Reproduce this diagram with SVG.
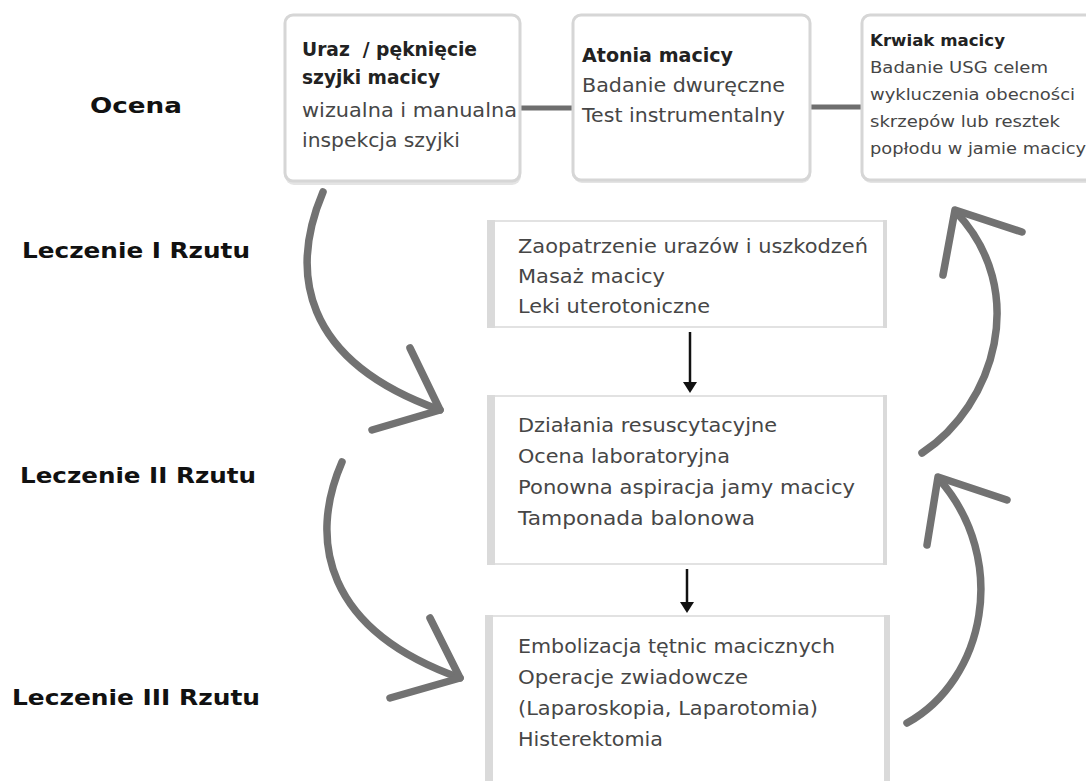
<svg xmlns="http://www.w3.org/2000/svg" width="1086" height="781" viewBox="0 0 1086 781">
<defs>
<style>
.lbl{font-family:"DejaVu Sans","Liberation Sans",sans-serif;font-weight:bold;font-size:21px;fill:#111}
.t{font-family:"DejaVu Sans","Liberation Sans",sans-serif;font-size:19px;fill:#464646}
.tb{font-family:"DejaVu Sans","Liberation Sans",sans-serif;font-size:19px;font-weight:bold;fill:#222}
.s{font-family:"DejaVu Sans","Liberation Sans",sans-serif;font-size:16px;fill:#464646}
.sb{font-family:"DejaVu Sans","Liberation Sans",sans-serif;font-size:16px;font-weight:bold;fill:#222}
.top{fill:#fff;stroke:#d6d6d6;stroke-width:3}
.shadow{fill:#e4e4e4}
.mid{fill:#fff;stroke:#e2e2e2;stroke-width:2}
.bar{fill:#dadada}
.link{stroke:#6e6e6e;stroke-width:5;fill:none}
.curve{stroke:#727272;stroke-width:7.5;fill:none;stroke-linecap:round;stroke-linejoin:round}
.arr{stroke:#111;stroke-width:2.5;fill:none}
.pre{white-space:pre}
</style>
</defs>
<rect width="1086" height="781" fill="#fff"/>

<g id="labels">
<text class="lbl" x="90" y="113" textLength="92" lengthAdjust="spacingAndGlyphs">Ocena</text>
<text class="lbl" x="22" y="258" textLength="228" lengthAdjust="spacingAndGlyphs">Leczenie I Rzutu</text>
<text class="lbl" x="20" y="483" textLength="236" lengthAdjust="spacingAndGlyphs">Leczenie II Rzutu</text>
<text class="lbl" x="12" y="705" textLength="248" lengthAdjust="spacingAndGlyphs">Leczenie III Rzutu</text>
</g>

<g id="connectors">
<line class="link" x1="520" y1="108" x2="574" y2="108"/>
<line class="link" x1="810" y1="107" x2="863" y2="107"/>
<line class="arr" x1="690" y1="332" x2="690" y2="384"/>
<path d="M683,382 L697,382 L690,393 Z" fill="#111"/>
<line class="arr" x1="687" y1="569" x2="687" y2="604"/>
<path d="M680,602 L694,602 L687,613 Z" fill="#111"/>
<path class="curve" d="M323,192 C290,270 300,360 440,410"/>
<path class="curve" d="M410,348 L440,410 L372,430"/>
<path class="curve" d="M342,462 C308,540 325,630 460,678"/>
<path class="curve" d="M430,618 L460,678 L390,698"/>
<path class="curve" d="M922,453 C995,405 1030,290 956,212"/>
<path class="curve" d="M943,275 L955,210 L1022,232"/>
<path class="curve" d="M907,723 C985,680 1010,560 939,479"/>
<path class="curve" d="M927,545 L938,477 L1007,500"/>
</g>

<g id="node-uraz">
<rect class="shadow" x="285" y="17" width="236" height="168" rx="9"/>
<rect class="top" x="285" y="15" width="235" height="166" rx="8"/>
<text class="tb pre" x="302" y="56" textLength="175" lengthAdjust="spacingAndGlyphs">Uraz  / pęknięcie</text>
<text class="tb" x="302" y="84" textLength="138" lengthAdjust="spacingAndGlyphs">szyjki macicy</text>
<text class="t" x="302" y="117" textLength="215" lengthAdjust="spacingAndGlyphs">wizualna i manualna</text>
<text class="t" x="302" y="147" textLength="158" lengthAdjust="spacingAndGlyphs">inspekcja szyjki</text>
</g>

<g id="node-atonia">
<rect class="shadow" x="573" y="17" width="238" height="166" rx="9"/>
<rect class="top" x="573" y="15" width="237" height="165" rx="8"/>
<text class="tb" x="582" y="62" textLength="151" lengthAdjust="spacingAndGlyphs">Atonia macicy</text>
<text class="t" x="582" y="92" textLength="203" lengthAdjust="spacingAndGlyphs">Badanie dwuręczne</text>
<text class="t" x="582" y="122" textLength="203" lengthAdjust="spacingAndGlyphs">Test instrumentalny</text>
</g>

<g id="node-krwiak">
<rect class="shadow" x="862" y="17" width="240" height="166" rx="9"/>
<rect class="top" x="862" y="15" width="240" height="165" rx="8"/>
<text class="sb" x="870" y="46" textLength="135" lengthAdjust="spacingAndGlyphs">Krwiak macicy</text>
<text class="s" x="870" y="73" textLength="178" lengthAdjust="spacingAndGlyphs">Badanie USG celem</text>
<text class="s" x="870" y="100" textLength="205" lengthAdjust="spacingAndGlyphs">wykluczenia obecności</text>
<text class="s" x="870" y="127" textLength="190" lengthAdjust="spacingAndGlyphs">skrzepów lub resztek</text>
<text class="s" x="870" y="154" textLength="216" lengthAdjust="spacingAndGlyphs">popłodu w jamie macicy</text>
</g>

<g id="node-rzut1">
<rect class="mid" x="488" y="221" width="398" height="106"/>
<rect class="bar" x="487" y="220" width="8" height="108"/>
<rect class="bar" x="883" y="220" width="4" height="108"/>
<text class="t" x="518" y="253" textLength="350" lengthAdjust="spacingAndGlyphs">Zaopatrzenie urazów i uszkodzeń</text>
<text class="t" x="518" y="283" textLength="147" lengthAdjust="spacingAndGlyphs">Masaż macicy</text>
<text class="t" x="518" y="313" textLength="192" lengthAdjust="spacingAndGlyphs">Leki uterotoniczne</text>
</g>

<g id="node-rzut2">
<rect class="mid" x="488" y="396" width="398" height="168"/>
<rect class="bar" x="487" y="395" width="8" height="170"/>
<rect class="bar" x="883" y="395" width="4" height="170"/>
<text class="t" x="518" y="432" textLength="259" lengthAdjust="spacingAndGlyphs">Działania resuscytacyjne</text>
<text class="t" x="518" y="463" textLength="212" lengthAdjust="spacingAndGlyphs">Ocena laboratoryjna</text>
<text class="t" x="518" y="494" textLength="337" lengthAdjust="spacingAndGlyphs">Ponowna aspiracja jamy macicy</text>
<text class="t" x="518" y="525" textLength="237" lengthAdjust="spacingAndGlyphs">Tamponada balonowa</text>
</g>

<g id="node-rzut3">
<rect class="mid" x="486" y="616" width="403" height="180"/>
<rect class="bar" x="485" y="615" width="8" height="170"/>
<rect class="bar" x="884" y="615" width="6" height="170"/>
<text class="t" x="518" y="653" textLength="317" lengthAdjust="spacingAndGlyphs">Embolizacja tętnic macicznych</text>
<text class="t" x="518" y="684" textLength="230" lengthAdjust="spacingAndGlyphs">Operacje zwiadowcze</text>
<text class="t" x="518" y="715" textLength="300" lengthAdjust="spacingAndGlyphs">(Laparoskopia, Laparotomia)</text>
<text class="t" x="518" y="746" textLength="145" lengthAdjust="spacingAndGlyphs">Histerektomia</text>
</g>
</svg>
